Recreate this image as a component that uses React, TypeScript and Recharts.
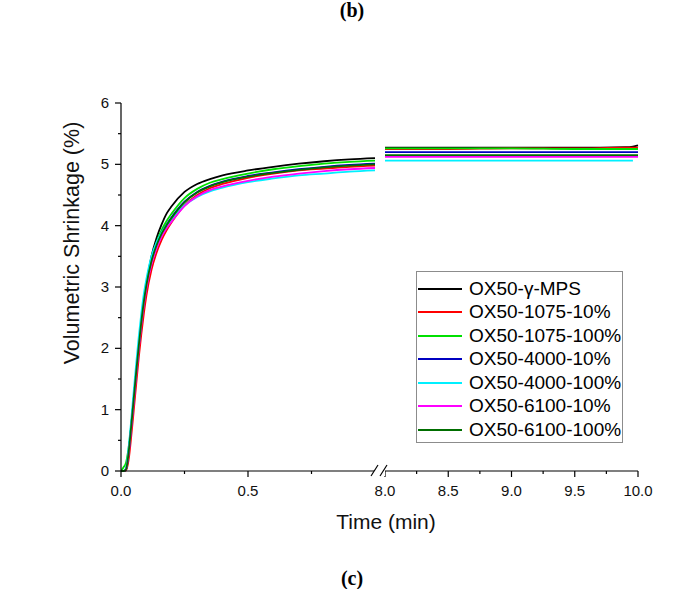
import React from 'react';
import { LineChart, Line, XAxis, YAxis, Legend } from 'recharts';

// ---------- data ----------
const seriesNames = [
  'OX50-γ-MPS',
  'OX50-1075-10%',
  'OX50-1075-100%',
  'OX50-4000-10%',
  'OX50-4000-100%',
  'OX50-6100-10%',
  'OX50-6100-100%',
];
const seriesColors = ['#000000', '#ff0000', '#00e000', '#0000c0', '#00f0ff', '#ff00ff', '#006e00'];

const timeEarly = [0, 0.01, 0.02, 0.03, 0.04, 0.05, 0.06, 0.07, 0.08, 0.09, 0.1, 0.12, 0.14, 0.16, 0.18, 0.2, 0.25, 0.3, 0.35, 0.4, 0.5, 0.6, 0.7, 0.8, 0.9, 1.0];
const mpsEarly = [0, 0, 0.03, 0.3, 0.72, 1.17, 1.62, 2.03, 2.43, 2.77, 3.05, 3.5, 3.8, 4.02, 4.2, 4.32, 4.55, 4.68, 4.76, 4.82, 4.9, 4.96, 5.01, 5.05, 5.08, 5.1];
const r1075_10Early = [0, 0, 0.01, 0.18, 0.55, 0.98, 1.42, 1.85, 2.23, 2.57, 2.86, 3.28, 3.56, 3.77, 3.93, 4.06, 4.33, 4.5, 4.61, 4.68, 4.78, 4.85, 4.9, 4.93, 4.96, 4.98];
const r1075_100Early = [0, 0.06, 0.14, 0.38, 0.75, 1.18, 1.62, 2.03, 2.42, 2.75, 3.03, 3.45, 3.73, 3.93, 4.08, 4.2, 4.45, 4.6, 4.7, 4.76, 4.85, 4.92, 4.97, 5.01, 5.04, 5.06];
const r4000_10Early = [0, 0, 0.03, 0.3, 0.72, 1.17, 1.62, 2.04, 2.43, 2.76, 3.03, 3.43, 3.69, 3.88, 4.02, 4.14, 4.39, 4.55, 4.65, 4.72, 4.81, 4.87, 4.92, 4.96, 4.99, 5.01];
const r4000_100Early = [0, 0, 0.05, 0.38, 0.82, 1.3, 1.76, 2.19, 2.57, 2.89, 3.13, 3.5, 3.73, 3.89, 4.01, 4.11, 4.33, 4.47, 4.56, 4.62, 4.71, 4.77, 4.82, 4.85, 4.88, 4.9];
const r6100_10Early = [0, 0, 0.03, 0.28, 0.68, 1.12, 1.57, 1.99, 2.38, 2.71, 2.98, 3.37, 3.63, 3.82, 3.96, 4.07, 4.32, 4.48, 4.58, 4.64, 4.73, 4.8, 4.85, 4.89, 4.92, 4.94];
const r6100_100Early = [0, 0, 0.03, 0.3, 0.72, 1.17, 1.62, 2.04, 2.43, 2.76, 3.03, 3.42, 3.68, 3.87, 4.01, 4.13, 4.38, 4.54, 4.64, 4.71, 4.8, 4.86, 4.91, 4.95, 4.98, 5.0];

const timeLate = [8.0, 8.5, 9.0, 9.5, 9.9, 9.96, 10.0];
const mpsLate = [5.27, 5.27, 5.27, 5.27, 5.28, 5.29, 5.31];
const r1075_10Late = [5.25, 5.25, 5.26, 5.26, 5.27, 5.27, 5.27];
const r1075_100Late = [5.26, 5.26, 5.26, 5.25, 5.25, 5.25, 5.25];
const r4000_10Late = [5.2, 5.2, 5.2, 5.2, 5.2, 5.2, 5.2];
const r4000_100Late = [5.06, 5.06, 5.06, 5.06, 5.06, 5.06, null];
const r6100_10Late = [5.12, 5.12, 5.12, 5.12, 5.12, 5.12, 5.12];
const r6100_100Late = [5.15, 5.15, 5.15, 5.15, 5.15, 5.15, 5.15];

const yTicks = [0, 0.5, 1, 1.5, 2, 2.5, 3, 3.5, 4, 4.5, 5, 5.5, 6];
const xTicksEarly = [0, 0.25, 0.5, 0.75];
const xTicksLate = [8, 8.25, 8.5, 8.75, 9, 9.25, 9.5, 9.75, 10];
const xLabelsEarly = ['0.0', '0.5'];
const xLabelsLate = ['8.0', '8.5', '9.0', '9.5', '10.0'];
const yLabels = ['0', '1', '2', '3', '4', '5', '6'];

const earlySeries = [mpsEarly, r1075_10Early, r1075_100Early, r4000_10Early, r4000_100Early, r6100_10Early, r6100_100Early];
const lateSeries = [mpsLate, r1075_10Late, r1075_100Late, r4000_10Late, r4000_100Late, r6100_10Late, r6100_100Late];

const build = (times: number[], series: (number | null)[][]) =>
  times.map((t, i) => {
    const row: Record<string, number | null> = { t };
    series.forEach((s, k) => {
      row['s' + k] = s[i];
    });
    return row;
  });

const earlyData = build(timeEarly, earlySeries);
const lateData = build(timeLate, lateSeries);

// ---------- style ----------
const FONT = '"Liberation Sans", Arial, sans-serif';
const SERIF = '"Liberation Serif", "Times New Roman", serif';
const TICK_FS = 15;

const fmtX = (v: number) => v.toFixed(1);

const makeXTick = (labels: string[]) => (props: any) => {
  const { x, y, payload } = props;
  const txt = fmtX(payload.value);
  const major = labels.includes(txt);
  return (
    <g>
      <line x1={x} y1={y} x2={x} y2={y + (major ? 6 : 3)} stroke="#000" strokeWidth={1.2} />
      {major && (
        <text x={x} y={y + 25} textAnchor="middle" fontSize={TICK_FS} fontFamily={FONT} fill="#111">
          {txt}
        </text>
      )}
    </g>
  );
};

const YTick = (props: any) => {
  const { x, y, payload } = props;
  const txt = String(payload.value);
  const major = yLabels.includes(txt);
  return (
    <g>
      <line x1={x - (major ? 6 : 3)} y1={y} x2={x} y2={y} stroke="#000" strokeWidth={1.2} />
      {major && (
        <text x={x - 12} y={y + 5} textAnchor="end" fontSize={TICK_FS} fontFamily={FONT} fill="#111">
          {txt}
        </text>
      )}
    </g>
  );
};

const LegendBox = (props: any) => {
  const items = [...(props.payload || [])].sort(
    (a: any, b: any) => seriesNames.indexOf(a.value) - seriesNames.indexOf(b.value)
  );
  return (
    <div
      style={{
        border: '1px solid #8c8c8c',
        background: '#fff',
        width: 207,
        height: 172,
        boxSizing: 'border-box',
        paddingTop: 5,
        paddingLeft: 1,
        fontFamily: FONT,
        fontSize: 19,
        color: '#000',
      }}
    >
      {items.map((p: any) => (
        <div key={p.value} style={{ display: 'flex', alignItems: 'center', height: 23.5, whiteSpace: 'nowrap' }}>
          <span style={{ display: 'inline-block', width: 44, height: 2, background: p.color, marginRight: 7 }} />
          <span>{p.value}</span>
        </div>
      ))}
    </div>
  );
};

const CHART_H = 589;
const MARGIN_TOP = 103;
const XAXIS_H = 30;
const MARGIN_BOTTOM = CHART_H - 471 - XAXIS_H;
const RIGHT_LEFT = 345;

export default function App() {
  return (
    <div style={{ position: 'absolute', left: 0, top: 0, width: 675, height: 589, background: '#fff', overflow: 'hidden' }}>
      <div style={{ position: 'absolute', left: 0, top: 0 }}>
        <LineChart width={380} height={CHART_H} data={earlyData} margin={{ top: MARGIN_TOP, right: 5, left: 0, bottom: MARGIN_BOTTOM }}>
          <XAxis
            dataKey="t"
            type="number"
            domain={[0, 1]}
            ticks={xTicksEarly}
            interval={0}
            height={XAXIS_H}
            tickSize={0}
            tickMargin={0}
            tickLine={false}
            axisLine={{ stroke: '#000', strokeWidth: 1.2 }}
            tick={makeXTick(xLabelsEarly)}
            allowDataOverflow
          />
          <YAxis
            type="number"
            domain={[0, 6]}
            ticks={yTicks}
            interval={0}
            width={121}
            tickSize={0}
            tickMargin={0}
            tickLine={false}
            axisLine={{ stroke: '#000', strokeWidth: 1.2 }}
            tick={YTick}
          />
          {seriesNames.map((n, k) => (
            <Line
              key={n}
              name={n}
              dataKey={'s' + k}
              type="monotone"
              stroke={seriesColors[k]}
              strokeWidth={1.8}
              dot={false}
              isAnimationActive={false}
            />
          ))}
        </LineChart>
      </div>
      <div style={{ position: 'absolute', left: RIGHT_LEFT, top: 0 }}>
        <LineChart
          width={638 + 30 - RIGHT_LEFT}
          height={CHART_H}
          data={lateData}
          margin={{ top: MARGIN_TOP, right: 30, left: 385 - RIGHT_LEFT, bottom: MARGIN_BOTTOM }}
        >
          <XAxis
            dataKey="t"
            type="number"
            domain={[8, 10]}
            ticks={xTicksLate}
            interval={0}
            height={XAXIS_H}
            tickSize={0}
            tickMargin={0}
            tickLine={false}
            axisLine={{ stroke: '#000', strokeWidth: 1.2 }}
            tick={makeXTick(xLabelsLate)}
          />
          <YAxis hide type="number" domain={[0, 6]} />
          {seriesNames.map((n, k) => (
            <Line
              key={n}
              name={n}
              dataKey={'s' + k}
              type="monotone"
              stroke={seriesColors[k]}
              strokeWidth={1.8}
              dot={false}
              connectNulls={false}
              isAnimationActive={false}
            />
          ))}
          <Legend
            layout="vertical"
            align="center"
            verticalAlign="middle"
            content={LegendBox}
            wrapperStyle={{ position: 'absolute', left: 416 - RIGHT_LEFT, top: 271, width: 207, height: 172 }}
          />
        </LineChart>
      </div>
      <svg width={675} height={589} style={{ position: 'absolute', left: 0, top: 0, pointerEvents: 'none' }}>
        <rect x={374} y={466} width={11} height={10} fill="#fff" />
        <line x1={371} y1={476} x2={378} y2={465} stroke="#000" strokeWidth={1.2} />
        <line x1={380} y1={476} x2={387} y2={465} stroke="#000" strokeWidth={1.2} />
        <text
          x={0}
          y={0}
          transform="translate(79 243) rotate(-90)"
          textAnchor="middle"
          fontSize={21.5}
          fontFamily={FONT}
          fill="#111"
        >
          Volumetric Shrinkage (%)
        </text>
        <text x={386} y={529} textAnchor="middle" fontSize={21} fontFamily={FONT} fill="#111">
          Time (min)
        </text>
        <text x={352} y={17} textAnchor="middle" fontSize={20} fontWeight="bold" fontFamily={SERIF} fill="#000">
          (b)
        </text>
        <text x={352} y={585} textAnchor="middle" fontSize={20} fontWeight="bold" fontFamily={SERIF} fill="#000">
          (c)
        </text>
      </svg>
    </div>
  );
}
